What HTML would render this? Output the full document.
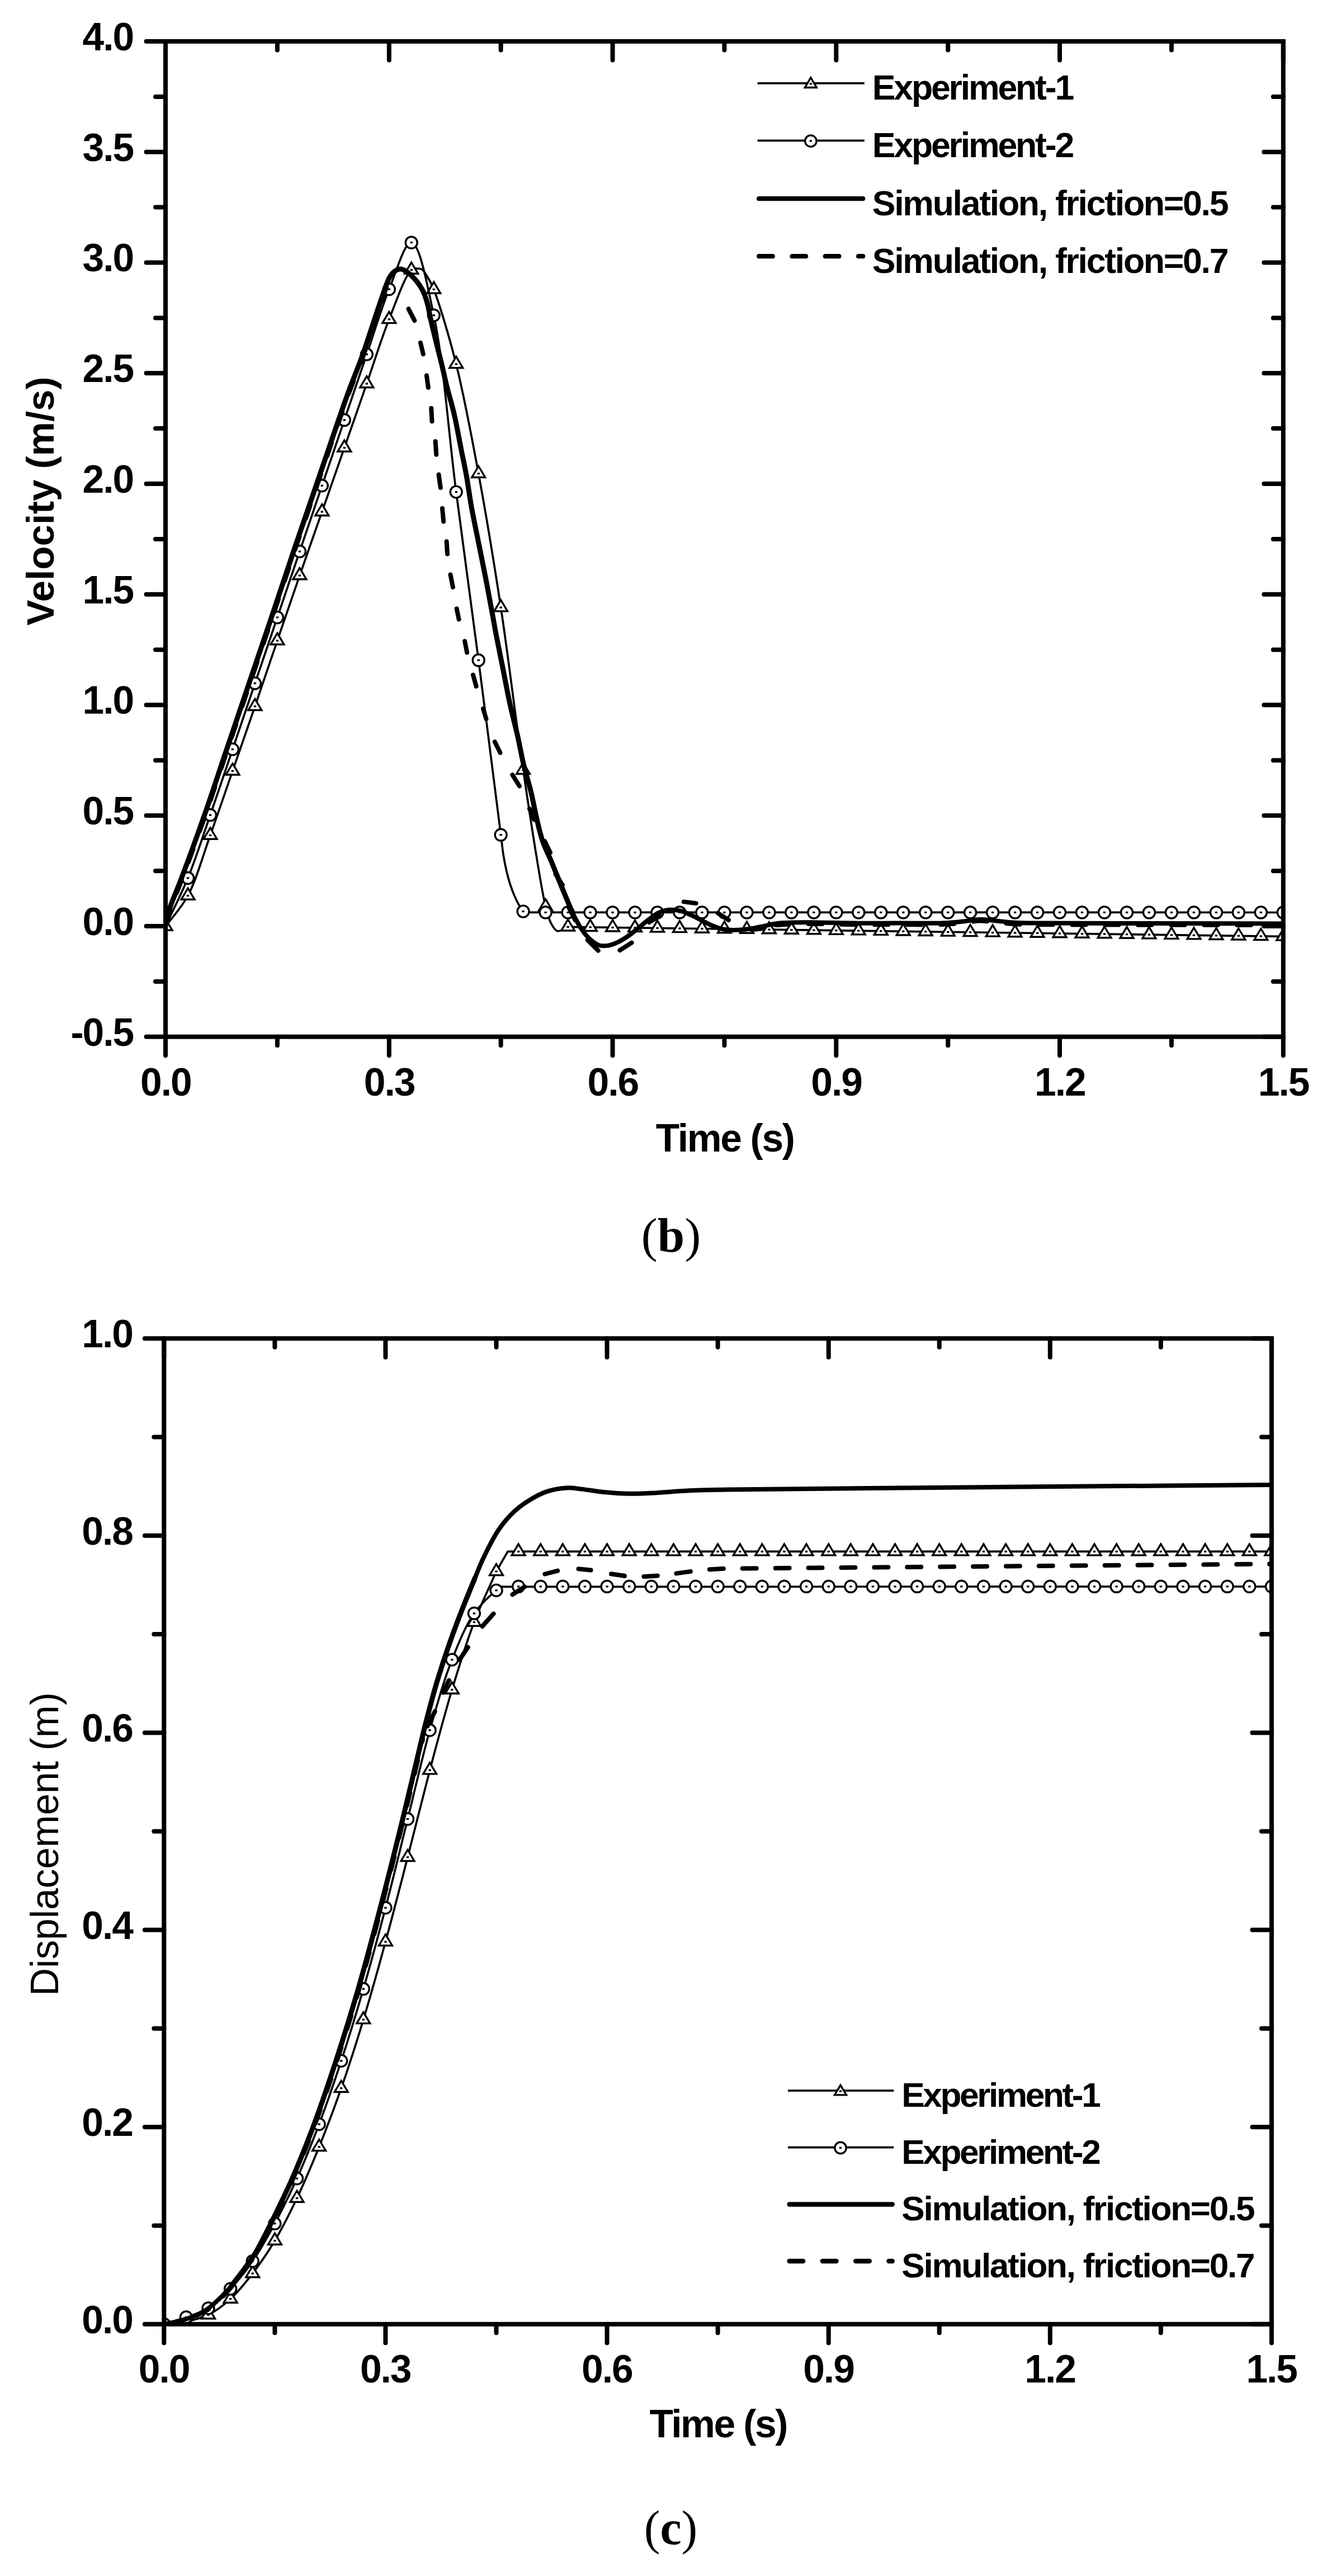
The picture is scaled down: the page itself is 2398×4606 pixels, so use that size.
<!DOCTYPE html>
<html lang="en"><head><meta charset="utf-8"><title>Figure (b) (c)</title>
<style>html,body{margin:0;padding:0;background:#fff}svg{display:block}</style></head>
<body>
<svg width="2398" height="4606" viewBox="0 0 2398 4606">
<rect width="2398" height="4606" fill="#fff"/>
<defs><clipPath id="cp1"><rect x="296" y="74" width="1998.8" height="1779.8"/></clipPath>
<clipPath id="cp2"><rect x="293.3" y="2393.2" width="1980.6" height="1762.5"/></clipPath></defs>
<g clip-path="url(#cp1)">
<path d="M296 1656.5C309.3 1638.2 324 1623.9 336 1601.5C351.6 1572.4 362.8 1530.1 376 1493.5C389.5 1455.8 402.6 1416.9 415.9 1378.5C429.3 1340 442.6 1301.7 455.9 1263C469.3 1224 482.5 1184.6 495.9 1145.5C509.2 1106.6 522.5 1067.6 535.9 1029C549.1 990.8 562.5 953 575.8 915C589.2 876.9 602.5 838.8 615.8 800.6C629.1 762.4 642.5 724.2 655.8 686C669.1 647.7 681.6 606.4 695.8 570.9C708.4 539.2 724.8 491.6 735.7 482.6C739.2 479.7 742.3 480.3 745.5 480.2C748.6 480.1 751.8 480 754.6 481.8C758.6 484.3 762.1 491.4 765.5 497C769.2 503.2 771.7 507.4 775.7 517.5C785.5 542.3 803.4 601.9 815.7 651C830.4 709.7 842.9 778.1 855.7 846.8C869.7 922.5 882.9 1002.4 895.6 1086.2C909.7 1178.3 921.7 1284.4 935.6 1377C948.4 1462 965.5 1579.5 975.6 1621C979.1 1635.6 981 1642.3 985 1650C988.1 1656 991.9 1662.9 996 1664.5C999.1 1665.7 1002.8 1663.7 1006 1662.5C1009.3 1661.3 1012.4 1659 1015.6 1657.3L2294.8 1674.4" fill="none" stroke="#000" stroke-width="3.7" stroke-linejoin="round"/>
<g fill="#fff" stroke="#000" stroke-width="3.4" stroke-linejoin="miter">
<path d="M296 1643.2L307.9 1663.2L284.1 1663.2Z"/><path d="M336 1588.2L347.9 1608.2L324.1 1608.2Z"/><path d="M376 1480.2L387.9 1500.2L364.1 1500.2Z"/><path d="M415.9 1365.2L427.8 1385.2L404 1385.2Z"/><path d="M455.9 1249.7L467.8 1269.7L444 1269.7Z"/><path d="M495.9 1132.2L507.8 1152.2L484 1152.2Z"/><path d="M535.9 1015.7L547.8 1035.7L524 1035.7Z"/><path d="M575.8 901.7L587.7 921.7L563.9 921.7Z"/><path d="M615.8 787.3L627.7 807.3L603.9 807.3Z"/><path d="M655.8 672.7L667.7 692.7L643.9 692.7Z"/><path d="M695.8 557.6L707.7 577.6L683.9 577.6Z"/><path d="M735.7 469.3L747.6 489.3L723.8 489.3Z"/><path d="M775.7 504.2L787.6 524.2L763.8 524.2Z"/><path d="M815.7 637.7L827.6 657.7L803.8 657.7Z"/><path d="M855.7 833.5L867.6 853.5L843.8 853.5Z"/><path d="M895.6 1072.9L907.5 1092.9L883.7 1092.9Z"/><path d="M935.6 1363.7L947.5 1383.7L923.7 1383.7Z"/><path d="M975.6 1607.7L987.5 1627.7L963.7 1627.7Z"/><path d="M1015.6 1644L1027.5 1664L1003.7 1664Z"/><path d="M1055.5 1644.5L1067.4 1664.5L1043.6 1664.5Z"/><path d="M1095.5 1645L1107.4 1665L1083.6 1665Z"/><path d="M1135.5 1645.6L1147.4 1665.6L1123.6 1665.6Z"/><path d="M1175.5 1646.1L1187.4 1666.1L1163.6 1666.1Z"/><path d="M1215.4 1646.6L1227.3 1666.6L1203.5 1666.6Z"/><path d="M1255.4 1647.2L1267.3 1667.2L1243.5 1667.2Z"/><path d="M1295.4 1647.7L1307.3 1667.7L1283.5 1667.7Z"/><path d="M1335.4 1648.2L1347.3 1668.2L1323.5 1668.2Z"/><path d="M1375.4 1648.8L1387.3 1668.8L1363.5 1668.8Z"/><path d="M1415.3 1649.3L1427.2 1669.3L1403.4 1669.3Z"/><path d="M1455.3 1649.8L1467.2 1669.8L1443.4 1669.8Z"/><path d="M1495.3 1650.4L1507.2 1670.4L1483.4 1670.4Z"/><path d="M1535.3 1650.9L1547.2 1670.9L1523.4 1670.9Z"/><path d="M1575.2 1651.4L1587.1 1671.4L1563.3 1671.4Z"/><path d="M1615.2 1652L1627.1 1672L1603.3 1672Z"/><path d="M1655.2 1652.5L1667.1 1672.5L1643.3 1672.5Z"/><path d="M1695.2 1653.1L1707.1 1673.1L1683.3 1673.1Z"/><path d="M1735.1 1653.6L1747 1673.6L1723.2 1673.6Z"/><path d="M1775.1 1654.1L1787 1674.1L1763.2 1674.1Z"/><path d="M1815.1 1654.7L1827 1674.7L1803.2 1674.7Z"/><path d="M1855.1 1655.2L1867 1675.2L1843.2 1675.2Z"/><path d="M1895 1655.7L1906.9 1675.7L1883.1 1675.7Z"/><path d="M1935 1656.3L1946.9 1676.3L1923.1 1676.3Z"/><path d="M1975 1656.8L1986.9 1676.8L1963.1 1676.8Z"/><path d="M2015 1657.3L2026.9 1677.3L2003.1 1677.3Z"/><path d="M2054.9 1657.9L2066.8 1677.9L2043 1677.9Z"/><path d="M2094.9 1658.4L2106.8 1678.4L2083 1678.4Z"/><path d="M2134.9 1658.9L2146.8 1678.9L2123 1678.9Z"/><path d="M2174.9 1659.5L2186.8 1679.5L2163 1679.5Z"/><path d="M2214.8 1660L2226.7 1680L2202.9 1680Z"/><path d="M2254.8 1660.5L2266.7 1680.5L2242.9 1680.5Z"/><path d="M2294.8 1661.1L2306.7 1681.1L2282.9 1681.1Z"/>
</g><g fill="#000"><rect x="293.8" y="1654.9" width="4.4" height="3.2"/><rect x="333.8" y="1599.9" width="4.4" height="3.2"/><rect x="373.8" y="1491.9" width="4.4" height="3.2"/><rect x="413.7" y="1376.9" width="4.4" height="3.2"/><rect x="453.7" y="1261.4" width="4.4" height="3.2"/><rect x="493.7" y="1143.9" width="4.4" height="3.2"/><rect x="533.7" y="1027.4" width="4.4" height="3.2"/><rect x="573.6" y="913.4" width="4.4" height="3.2"/><rect x="613.6" y="799" width="4.4" height="3.2"/><rect x="653.6" y="684.4" width="4.4" height="3.2"/><rect x="693.6" y="569.3" width="4.4" height="3.2"/><rect x="733.5" y="481" width="4.4" height="3.2"/><rect x="773.5" y="515.9" width="4.4" height="3.2"/><rect x="813.5" y="649.4" width="4.4" height="3.2"/><rect x="853.5" y="845.2" width="4.4" height="3.2"/><rect x="893.4" y="1084.6" width="4.4" height="3.2"/><rect x="933.4" y="1375.4" width="4.4" height="3.2"/><rect x="973.4" y="1619.4" width="4.4" height="3.2"/><rect x="1013.4" y="1655.7" width="4.4" height="3.2"/><rect x="1053.3" y="1656.2" width="4.4" height="3.2"/><rect x="1093.3" y="1656.8" width="4.4" height="3.2"/><rect x="1133.3" y="1657.3" width="4.4" height="3.2"/><rect x="1173.3" y="1657.8" width="4.4" height="3.2"/><rect x="1213.2" y="1658.4" width="4.4" height="3.2"/><rect x="1253.2" y="1658.9" width="4.4" height="3.2"/><rect x="1293.2" y="1659.4" width="4.4" height="3.2"/><rect x="1333.2" y="1660" width="4.4" height="3.2"/><rect x="1373.2" y="1660.5" width="4.4" height="3.2"/><rect x="1413.1" y="1661" width="4.4" height="3.2"/><rect x="1453.1" y="1661.6" width="4.4" height="3.2"/><rect x="1493.1" y="1662.1" width="4.4" height="3.2"/><rect x="1533.1" y="1662.6" width="4.4" height="3.2"/><rect x="1573" y="1663.2" width="4.4" height="3.2"/><rect x="1613" y="1663.7" width="4.4" height="3.2"/><rect x="1653" y="1664.2" width="4.4" height="3.2"/><rect x="1693" y="1664.8" width="4.4" height="3.2"/><rect x="1732.9" y="1665.3" width="4.4" height="3.2"/><rect x="1772.9" y="1665.9" width="4.4" height="3.2"/><rect x="1812.9" y="1666.4" width="4.4" height="3.2"/><rect x="1852.9" y="1666.9" width="4.4" height="3.2"/><rect x="1892.8" y="1667.5" width="4.4" height="3.2"/><rect x="1932.8" y="1668" width="4.4" height="3.2"/><rect x="1972.8" y="1668.5" width="4.4" height="3.2"/><rect x="2012.8" y="1669.1" width="4.4" height="3.2"/><rect x="2052.7" y="1669.6" width="4.4" height="3.2"/><rect x="2092.7" y="1670.1" width="4.4" height="3.2"/><rect x="2132.7" y="1670.7" width="4.4" height="3.2"/><rect x="2172.7" y="1671.2" width="4.4" height="3.2"/><rect x="2212.6" y="1671.7" width="4.4" height="3.2"/><rect x="2252.6" y="1672.3" width="4.4" height="3.2"/><rect x="2292.6" y="1672.8" width="4.4" height="3.2"/></g>
<path d="M296 1656C309.3 1627.3 323.3 1600.9 336 1570C350.2 1535.3 362.7 1495.3 376 1457.3C389.4 1418.6 402.6 1379 415.9 1339.8C429.3 1300.5 442.6 1261.1 455.9 1221.8C469.2 1182.5 482.6 1143.3 495.9 1104C509.2 1064.7 522.5 1025.3 535.9 986C549.2 946.7 562.5 907.5 575.8 868.3C589.1 829.2 602.5 790.1 615.8 751C629.1 711.9 642.4 672.6 655.8 633.6C669.1 594.7 681.3 552.4 695.8 517.2C708.3 486.7 723.5 432.8 735.7 433.7C750.6 434.8 764.2 510.4 775.7 563.8C793.3 645.5 802.2 775.6 815.7 879.6C828.9 981.1 842.5 1079.3 855.7 1180.5C869.1 1283.6 888.9 1439.6 895.6 1492.8C898 1511 898.4 1517.9 900.3 1529.5C902 1540 904 1550 906.2 1559.3C908.2 1567.7 910.5 1575.9 912.9 1583.2C915 1589.6 917.3 1595.4 919.7 1601.1C922 1606.5 924.4 1611.7 927.1 1616.5C929.7 1621.1 932.5 1627.4 935.6 1629.6C937.6 1631.1 939.9 1630.7 942 1631.3L2294.8 1631.5" fill="none" stroke="#000" stroke-width="3.7" stroke-linejoin="round"/>
<g fill="#fff" stroke="#000" stroke-width="3.4">
<circle cx="336" cy="1570" r="10.5"/><circle cx="376" cy="1457.3" r="10.5"/><circle cx="415.9" cy="1339.8" r="10.5"/><circle cx="455.9" cy="1221.8" r="10.5"/><circle cx="495.9" cy="1104" r="10.5"/><circle cx="535.9" cy="986" r="10.5"/><circle cx="575.8" cy="868.3" r="10.5"/><circle cx="615.8" cy="751" r="10.5"/><circle cx="655.8" cy="633.6" r="10.5"/><circle cx="695.8" cy="517.2" r="10.5"/><circle cx="735.7" cy="433.7" r="10.5"/><circle cx="775.7" cy="563.8" r="10.5"/><circle cx="815.7" cy="879.6" r="10.5"/><circle cx="855.7" cy="1180.5" r="10.5"/><circle cx="895.6" cy="1492.8" r="10.5"/><circle cx="935.6" cy="1629.6" r="10.5"/><circle cx="975.6" cy="1631.5" r="10.5"/><circle cx="1015.6" cy="1631.5" r="10.5"/><circle cx="1055.5" cy="1631.5" r="10.5"/><circle cx="1095.5" cy="1631.5" r="10.5"/><circle cx="1135.5" cy="1631.5" r="10.5"/><circle cx="1175.5" cy="1631.5" r="10.5"/><circle cx="1215.4" cy="1631.5" r="10.5"/><circle cx="1255.4" cy="1631.5" r="10.5"/><circle cx="1295.4" cy="1631.5" r="10.5"/><circle cx="1335.4" cy="1631.5" r="10.5"/><circle cx="1375.4" cy="1631.5" r="10.5"/><circle cx="1415.3" cy="1631.5" r="10.5"/><circle cx="1455.3" cy="1631.5" r="10.5"/><circle cx="1495.3" cy="1631.5" r="10.5"/><circle cx="1535.3" cy="1631.5" r="10.5"/><circle cx="1575.2" cy="1631.5" r="10.5"/><circle cx="1615.2" cy="1631.5" r="10.5"/><circle cx="1655.2" cy="1631.5" r="10.5"/><circle cx="1695.2" cy="1631.5" r="10.5"/><circle cx="1735.1" cy="1631.5" r="10.5"/><circle cx="1775.1" cy="1631.5" r="10.5"/><circle cx="1815.1" cy="1631.5" r="10.5"/><circle cx="1855.1" cy="1631.5" r="10.5"/><circle cx="1895" cy="1631.5" r="10.5"/><circle cx="1935" cy="1631.5" r="10.5"/><circle cx="1975" cy="1631.5" r="10.5"/><circle cx="2015" cy="1631.5" r="10.5"/><circle cx="2054.9" cy="1631.5" r="10.5"/><circle cx="2094.9" cy="1631.5" r="10.5"/><circle cx="2134.9" cy="1631.5" r="10.5"/><circle cx="2174.9" cy="1631.5" r="10.5"/><circle cx="2214.8" cy="1631.5" r="10.5"/><circle cx="2254.8" cy="1631.5" r="10.5"/><circle cx="2294.8" cy="1631.5" r="10.5"/>
</g><g fill="#000"><rect x="333.8" y="1568.4" width="4.4" height="3.2"/><rect x="373.8" y="1455.7" width="4.4" height="3.2"/><rect x="413.7" y="1338.2" width="4.4" height="3.2"/><rect x="453.7" y="1220.2" width="4.4" height="3.2"/><rect x="493.7" y="1102.4" width="4.4" height="3.2"/><rect x="533.7" y="984.4" width="4.4" height="3.2"/><rect x="573.6" y="866.7" width="4.4" height="3.2"/><rect x="613.6" y="749.4" width="4.4" height="3.2"/><rect x="653.6" y="632" width="4.4" height="3.2"/><rect x="693.6" y="515.6" width="4.4" height="3.2"/><rect x="733.5" y="432.1" width="4.4" height="3.2"/><rect x="773.5" y="562.2" width="4.4" height="3.2"/><rect x="813.5" y="878" width="4.4" height="3.2"/><rect x="853.5" y="1178.9" width="4.4" height="3.2"/><rect x="893.4" y="1491.2" width="4.4" height="3.2"/><rect x="933.4" y="1628" width="4.4" height="3.2"/><rect x="973.4" y="1629.9" width="4.4" height="3.2"/><rect x="1013.4" y="1629.9" width="4.4" height="3.2"/><rect x="1053.3" y="1629.9" width="4.4" height="3.2"/><rect x="1093.3" y="1629.9" width="4.4" height="3.2"/><rect x="1133.3" y="1629.9" width="4.4" height="3.2"/><rect x="1173.3" y="1629.9" width="4.4" height="3.2"/><rect x="1213.2" y="1629.9" width="4.4" height="3.2"/><rect x="1253.2" y="1629.9" width="4.4" height="3.2"/><rect x="1293.2" y="1629.9" width="4.4" height="3.2"/><rect x="1333.2" y="1629.9" width="4.4" height="3.2"/><rect x="1373.2" y="1629.9" width="4.4" height="3.2"/><rect x="1413.1" y="1629.9" width="4.4" height="3.2"/><rect x="1453.1" y="1629.9" width="4.4" height="3.2"/><rect x="1493.1" y="1629.9" width="4.4" height="3.2"/><rect x="1533.1" y="1629.9" width="4.4" height="3.2"/><rect x="1573" y="1629.9" width="4.4" height="3.2"/><rect x="1613" y="1629.9" width="4.4" height="3.2"/><rect x="1653" y="1629.9" width="4.4" height="3.2"/><rect x="1693" y="1629.9" width="4.4" height="3.2"/><rect x="1732.9" y="1629.9" width="4.4" height="3.2"/><rect x="1772.9" y="1629.9" width="4.4" height="3.2"/><rect x="1812.9" y="1629.9" width="4.4" height="3.2"/><rect x="1852.9" y="1629.9" width="4.4" height="3.2"/><rect x="1892.8" y="1629.9" width="4.4" height="3.2"/><rect x="1932.8" y="1629.9" width="4.4" height="3.2"/><rect x="1972.8" y="1629.9" width="4.4" height="3.2"/><rect x="2012.8" y="1629.9" width="4.4" height="3.2"/><rect x="2052.7" y="1629.9" width="4.4" height="3.2"/><rect x="2092.7" y="1629.9" width="4.4" height="3.2"/><rect x="2132.7" y="1629.9" width="4.4" height="3.2"/><rect x="2172.7" y="1629.9" width="4.4" height="3.2"/><rect x="2212.6" y="1629.9" width="4.4" height="3.2"/><rect x="2252.6" y="1629.9" width="4.4" height="3.2"/><rect x="2292.6" y="1629.9" width="4.4" height="3.2"/></g>
<path d="M296.3 1652C299.3 1641 302 1629 305.3 1619C308.2 1610.3 311.6 1603.2 314.8 1595C318.2 1586.4 320.7 1580.4 325.2 1568.5C334.4 1544.2 352.5 1495 365.7 1457.3C379.2 1418.8 392.1 1379 405.4 1339.8C418.7 1300.5 432.1 1261.1 445.4 1221.8C458.7 1182.5 472.2 1143.3 485.4 1104C498.7 1064.7 511.6 1025.3 524.9 986C538.2 946.7 551.9 907.5 565.3 868.3C578.7 829.2 594.6 782.1 605.4 751C612.6 730.4 616.8 717.9 623.5 699.8C631.1 679.1 641.3 654.9 648.8 633.8C655.6 614.8 661.7 595 667.1 579C671.3 566.4 674.6 556.2 678.3 545.4C681.7 535.3 685.2 525 688.4 516.3C691.1 509.1 693.1 502.2 696.2 496.8C698.8 492.3 701.6 488.2 705.1 485.5C708.3 483.1 712.6 480.9 716.3 481C720.1 481.1 723.7 483.5 727.5 486.1C732.6 489.5 738.5 495.1 743.2 500.7C748.2 506.6 753.1 513.7 756.6 520.8C760.1 527.9 762.2 535.3 764.4 543.2C766.7 551.7 767.8 560.3 770 570C772.6 581.6 775.8 594.8 779 608C782.5 622.3 786.8 638.5 790.2 652.8C793.3 665.8 795.5 676.7 798.8 690C802.6 705.4 807.8 721.7 811.9 739.5C816.7 760.1 821.3 786.5 825.3 806.6C828.6 823 831.4 835.5 834.2 851.3C837.4 868.9 839.7 887.8 843.2 907.3C847.1 928.7 852.1 952 856.6 974.4C861.1 996.8 865.9 1020.4 870 1041.5C873.6 1060.3 876.9 1078.3 880 1095C882.7 1109.6 884.6 1121.3 887.4 1136C890.7 1153.2 894.7 1172.4 898.6 1191.9C902.9 1213.2 907.3 1237.7 912 1259C916.3 1278.5 921.2 1296.5 925.4 1314.9C929.4 1332.8 932.4 1350.6 936.6 1368C940.7 1385 946.2 1402 950 1418C953.5 1432.6 955.7 1446.2 959 1460.3C962.3 1474.5 965.4 1489.4 970 1503C974.4 1516 980.4 1527 985.8 1540C991.8 1554.4 998.2 1570.6 1004.4 1585.8C1010.6 1600.8 1016.4 1616.8 1023 1630.5C1028.9 1642.7 1035.3 1655 1041.7 1664C1046.6 1670.9 1051.3 1676.3 1056.6 1680.8C1061.3 1684.8 1066.3 1688.6 1071.5 1690.2C1076.3 1691.7 1081.2 1691.6 1086.4 1690.9C1092.3 1690.1 1098.9 1687.4 1105 1684.6C1111.4 1681.6 1117.6 1677.6 1123.7 1673.4C1130.1 1669 1136.2 1663.5 1142.4 1658.5C1148.6 1653.5 1154.7 1648.1 1161 1643.5C1167.1 1639 1173.1 1634 1179.6 1631.2C1185.6 1628.6 1192 1627.2 1198.3 1626.8C1204.5 1626.4 1210.8 1627.1 1216.9 1628.6C1223.2 1630.1 1229.4 1633.3 1235.6 1636.1C1241.9 1638.9 1248 1642.3 1254.2 1645.4C1260.4 1648.5 1266.5 1652.1 1272.8 1654.7C1278.9 1657.3 1285.2 1659.7 1291.5 1661.1C1297.6 1662.4 1303.9 1662.7 1310.1 1662.9C1316.3 1663.1 1322.6 1662.7 1328.8 1662.2C1335 1661.7 1341.2 1660.6 1347.4 1659.6C1353.6 1658.5 1359.6 1657.2 1366 1655.9C1372.8 1654.5 1379.2 1652.6 1387 1651.5C1396.7 1650.2 1408.3 1649.9 1420 1649.5C1433.2 1649.1 1446 1649.3 1462 1649.4C1483.2 1649.6 1511.2 1650.5 1536 1650.7C1560.9 1650.9 1586 1650.5 1611 1650.5C1635.9 1650.5 1665 1651.3 1685.6 1650.5C1700.2 1649.9 1711.3 1648.7 1723 1647.5C1733.5 1646.5 1743.1 1644.1 1752.7 1644C1761.7 1643.9 1769.3 1645.4 1778.8 1646.3C1790.1 1647.3 1803.9 1649.1 1816 1649.8C1827.6 1650.5 1834.6 1650.3 1850 1650.5C1882.3 1650.9 1941.6 1650.9 2000 1651C2081.8 1651.2 2196.5 1651.3 2294.8 1651.5" fill="none" stroke="#000" stroke-width="8" stroke-linejoin="round"/>
<path d="M296.3 1652C299.3 1641 302 1629 305.3 1619C308.2 1610.3 311.6 1603.2 314.8 1595C318.2 1586.4 320.7 1580.4 325.2 1568.5C334.4 1544.2 352.5 1495 365.7 1457.3C379.2 1418.8 392.1 1379 405.4 1339.8C418.7 1300.5 432.1 1261.1 445.4 1221.8C458.7 1182.5 472.2 1143.3 485.4 1104C498.7 1064.7 511.6 1025.3 524.9 986C538.2 946.7 551.9 907.5 565.3 868.3C578.7 829.2 594.6 782.1 605.4 751C612.6 730.4 616.8 717.9 623.5 699.8C631.1 679.1 641.3 654.9 648.8 633.8C655.6 614.8 661.7 595 667.1 579C671.3 566.4 674.6 556.2 678.3 545.4C681.7 535.3 685.2 525 688.4 516.3C691.1 509.1 693.1 502.2 696.2 496.8C698.8 492.3 701.6 488.2 705.1 485.5C708.3 483.1 712.6 480.9 716.3 481C720.1 481.1 723.7 483.5 727.5 486.1C732.6 489.5 738.5 495.1 743.2 500.7C748.2 506.6 753.1 513.7 756.6 520.8C760.1 527.9 762.2 535.3 764.4 543.2C766.7 551.7 767.8 560.3 770 570C772.6 581.6 775.8 594.8 779 608C782.5 622.3 786.8 638.5 790.2 652.8C793.3 665.8 795.5 676.7 798.8 690C802.6 705.4 807.8 721.7 811.9 739.5C816.7 760.1 821.3 786.5 825.3 806.6C828.6 823 831.4 835.5 834.2 851.3C837.4 868.9 839.7 887.8 843.2 907.3C847.1 928.7 852.1 952 856.6 974.4C861.1 996.8 865.9 1020.4 870 1041.5C873.6 1060.3 876.9 1078.3 880 1095C882.7 1109.6 884.6 1121.3 887.4 1136C890.7 1153.2 894.7 1172.4 898.6 1191.9C902.9 1213.2 907.3 1237.7 912 1259C916.3 1278.5 921.2 1296.5 925.4 1314.9C929.4 1332.8 932.4 1350.6 936.6 1368C940.7 1385 946.2 1402 950 1418C953.5 1432.6 955.7 1446.2 959 1460.3C962.3 1474.5 965.4 1489.4 970 1503C974.4 1516 980.4 1527 985.8 1540C991.8 1554.4 998.2 1570.6 1004.4 1585.8C1010.6 1600.8 1016.8 1615.6 1023 1630.5" fill="none" stroke="#000" stroke-width="9.0" stroke-linejoin="round" stroke-linecap="round"/>
<path d="M297.8 1652.5C300.8 1641.5 303.5 1629.5 306.8 1619.5C309.7 1610.8 313.1 1603.7 316.3 1595.5C319.7 1586.9 322.2 1580.9 326.7 1569C335.9 1544.7 354 1495.5 367.2 1457.8C380.7 1419.3 393.6 1379.5 406.9 1340.3C420.2 1301 433.6 1261.6 446.9 1222.3C460.2 1183 473.7 1143.8 486.9 1104.5C500.2 1065.2 513.1 1025.8 526.4 986.5C539.7 947.2 553.4 908 566.8 868.8C580.2 829.7 596.1 782.6 606.9 751.5C614.1 730.9 618.3 718.4 625 700.3C632.6 679.6 642.8 655.4 650.3 634.3C657.1 615.3 663.2 595.5 668.6 579.5C672.8 566.9 676.1 556.7 679.8 545.9C683.2 535.8 686.7 525.5 689.9 516.8C692.6 509.6 694.6 502.7 697.7 497.3C700.2 493 703.2 490.1 706 486.5" fill="none" stroke="#000" stroke-width="8" stroke-dasharray="24.5 34.5" stroke-linecap="round"/>
<path d="M730.5 552.3L741.3 573.2M751.9 612.9L756.8 633.1M762.9 671.5L765.8 693M771.2 730L772.5 753.4M778.6 789.3L780.2 812.7M784.5 848.6L787.8 872M791 909L793.1 932.4M798.6 968.3L800 990.5M805.5 1027.5L809.9 1049.9M816.6 1088.4L820.6 1107.4M831.1 1146.5L835.1 1166.7M846 1206.9L851.6 1227.1M864 1267.2L869.4 1285.4M884.7 1326.3L894.5 1346M916.3 1385.4L928.9 1405.5M947 1446.1L955.2 1465.5M974.2 1504.2L984 1524.4M993.6 1563.1L1005.9 1582.4M1017.4 1622.9L1028.7 1645.5M1050.8 1680.8L1069.7 1699.7M1108.4 1699.1L1129.6 1685.6M1160.8 1649L1179.9 1638.1M1222.8 1612.4L1244.6 1615.1M1283.7 1632.7L1303 1645.1M1344 1662.2L1362 1660.6" fill="none" stroke="#000" stroke-width="8" stroke-linecap="round"/>
<path d="M1387 1654.1C1398 1653.4 1408.3 1652.5 1420 1652.1C1433.2 1651.7 1446 1651.9 1462 1652C1483.2 1652.2 1511.2 1653.1 1536 1653.3C1560.9 1653.5 1586 1653.1 1611 1653.1C1635.9 1653.1 1665 1653.9 1685.6 1653.1C1700.2 1652.5 1711.3 1651.3 1723 1650.1C1733.5 1649.1 1743.1 1646.7 1752.7 1646.6C1761.7 1646.5 1769.3 1648 1778.8 1648.9C1790.1 1649.9 1803.9 1651.7 1816 1652.4C1827.6 1653.1 1834.6 1652.9 1850 1653.1C1882.3 1653.5 1941.6 1653.5 2000 1653.6C2081.8 1653.8 2196.5 1653.9 2294.8 1654.1" fill="none" stroke="#000" stroke-width="8" stroke-dasharray="24.5 34.5" stroke-linecap="round"/>
</g>
<g stroke="#000" stroke-width="8" fill="none" stroke-linecap="round">
<path stroke-linecap="butt" stroke-linejoin="miter" d="M296 74H2294.8V1853.8H296Z"/>
<path d="M296 1853.8v33.5M296 74v33.5M695.8 1853.8v33.5M695.8 74v33.5M1095.5 1853.8v33.5M1095.5 74v33.5M1495.3 1853.8v33.5M1495.3 74v33.5M1895 1853.8v33.5M1895 74v33.5M2294.8 1853.8v33.5M2294.8 74v33.5M495.9 1853.8v15.5M495.9 74v15.5M895.6 1853.8v15.5M895.6 74v15.5M1295.4 1853.8v15.5M1295.4 74v15.5M1695.2 1853.8v15.5M1695.2 74v15.5M2094.9 1853.8v15.5M2094.9 74v15.5M296 1853.8h-34.5M2294.8 1853.8h-34.5M296 1656h-34.5M2294.8 1656h-34.5M296 1458.3h-34.5M2294.8 1458.3h-34.5M296 1260.5h-34.5M2294.8 1260.5h-34.5M296 1062.8h-34.5M2294.8 1062.8h-34.5M296 865h-34.5M2294.8 865h-34.5M296 667.3h-34.5M2294.8 667.3h-34.5M296 469.5h-34.5M2294.8 469.5h-34.5M296 271.8h-34.5M2294.8 271.8h-34.5M296 74h-34.5M2294.8 74h-34.5M296 1754.9h-18M2294.8 1754.9h-18M296 1557.2h-18M2294.8 1557.2h-18M296 1359.4h-18M2294.8 1359.4h-18M296 1161.7h-18M2294.8 1161.7h-18M296 963.9h-18M2294.8 963.9h-18M296 766.1h-18M2294.8 766.1h-18M296 568.4h-18M2294.8 568.4h-18M296 370.6h-18M2294.8 370.6h-18M296 172.9h-18M2294.8 172.9h-18"/>
</g>
<text x="238.2" y="1869.5" text-anchor="end" font-size="69.5" letter-spacing="-2.0" font-family="Liberation Sans, Arial, Helvetica, sans-serif" font-weight="700" >-0.5</text>
<text x="238.2" y="1671.7" text-anchor="end" font-size="69.5" letter-spacing="-2.0" font-family="Liberation Sans, Arial, Helvetica, sans-serif" font-weight="700" >0.0</text>
<text x="238.2" y="1474" text-anchor="end" font-size="69.5" letter-spacing="-2.0" font-family="Liberation Sans, Arial, Helvetica, sans-serif" font-weight="700" >0.5</text>
<text x="238.2" y="1276.2" text-anchor="end" font-size="69.5" letter-spacing="-2.0" font-family="Liberation Sans, Arial, Helvetica, sans-serif" font-weight="700" >1.0</text>
<text x="238.2" y="1078.5" text-anchor="end" font-size="69.5" letter-spacing="-2.0" font-family="Liberation Sans, Arial, Helvetica, sans-serif" font-weight="700" >1.5</text>
<text x="238.2" y="880.7" text-anchor="end" font-size="69.5" letter-spacing="-2.0" font-family="Liberation Sans, Arial, Helvetica, sans-serif" font-weight="700" >2.0</text>
<text x="238.2" y="683" text-anchor="end" font-size="69.5" letter-spacing="-2.0" font-family="Liberation Sans, Arial, Helvetica, sans-serif" font-weight="700" >2.5</text>
<text x="238.2" y="485.2" text-anchor="end" font-size="69.5" letter-spacing="-2.0" font-family="Liberation Sans, Arial, Helvetica, sans-serif" font-weight="700" >3.0</text>
<text x="238.2" y="287.5" text-anchor="end" font-size="69.5" letter-spacing="-2.0" font-family="Liberation Sans, Arial, Helvetica, sans-serif" font-weight="700" >3.5</text>
<text x="238.2" y="89.7" text-anchor="end" font-size="69.5" letter-spacing="-2.0" font-family="Liberation Sans, Arial, Helvetica, sans-serif" font-weight="700" >4.0</text>
<text x="296.3" y="1958.5" text-anchor="middle" font-size="69.5" letter-spacing="-2.0" font-family="Liberation Sans, Arial, Helvetica, sans-serif" font-weight="700" >0.0</text>
<text x="696.1" y="1958.5" text-anchor="middle" font-size="69.5" letter-spacing="-2.0" font-family="Liberation Sans, Arial, Helvetica, sans-serif" font-weight="700" >0.3</text>
<text x="1095.8" y="1958.5" text-anchor="middle" font-size="69.5" letter-spacing="-2.0" font-family="Liberation Sans, Arial, Helvetica, sans-serif" font-weight="700" >0.6</text>
<text x="1495.6" y="1958.5" text-anchor="middle" font-size="69.5" letter-spacing="-2.0" font-family="Liberation Sans, Arial, Helvetica, sans-serif" font-weight="700" >0.9</text>
<text x="1895.3" y="1958.5" text-anchor="middle" font-size="69.5" letter-spacing="-2.0" font-family="Liberation Sans, Arial, Helvetica, sans-serif" font-weight="700" >1.2</text>
<text x="2295.1" y="1958.5" text-anchor="middle" font-size="69.5" letter-spacing="-2.0" font-family="Liberation Sans, Arial, Helvetica, sans-serif" font-weight="700" >1.5</text>
<text x="1296.2" y="2058.9" text-anchor="middle" font-size="69.5" letter-spacing="-2.3" font-family="Liberation Sans, Arial, Helvetica, sans-serif" font-weight="700" >Time (s)</text>
<text transform="translate(95.7 896) rotate(-90)" text-anchor="middle" font-size="69" font-family="Liberation Sans, Arial, Helvetica, sans-serif" font-weight="700">Velocity (m/s)</text>
<text x="1200" y="2237.8" text-anchor="middle" font-size="87" font-family="Liberation Serif, Times New Roman, serif">(<tspan font-weight="700">b</tspan>)</text>
<g stroke="#000" fill="none">
<path d="M1354.6 148.8H1545.7M1354.6 251.4H1545.7" stroke-width="3.7"/>
<path d="M1357.1 355.2H1543.2" stroke-width="8.3" stroke-linecap="round"/>
<path d="M1357.1 458.2H1543.2" stroke-width="8.3" stroke-linecap="round" stroke-dasharray="24.7 34.6"/>
</g>
<g fill="#fff" stroke="#000" stroke-width="3.4"><path d="M1449.8 138.9L1460.3 156.5L1439.3 156.5Z"/><circle cx="1449.8" cy="252.2" r="10.2"/></g>
<g fill="#000"><rect x="1447.6" y="148.2" width="4.4" height="3.2"/><rect x="1447.6" y="250.4" width="4.4" height="3.2"/></g>
<text x="1559.8" y="178.2" text-anchor="start" font-size="62.5" letter-spacing="-3.14" font-family="Liberation Sans, Arial, Helvetica, sans-serif" font-weight="700" >Experiment-1</text>
<text x="1559.8" y="280.8" text-anchor="start" font-size="62.5" letter-spacing="-3.14" font-family="Liberation Sans, Arial, Helvetica, sans-serif" font-weight="700" >Experiment-2</text>
<text x="1559.8" y="384.6" text-anchor="start" font-size="62.5" letter-spacing="-2.25" font-family="Liberation Sans, Arial, Helvetica, sans-serif" font-weight="700" >Simulation, friction=0.5</text>
<text x="1559.8" y="487.6" text-anchor="start" font-size="62.5" letter-spacing="-2.25" font-family="Liberation Sans, Arial, Helvetica, sans-serif" font-weight="700" >Simulation, friction=0.7</text>
<g clip-path="url(#cp2)">
<path d="M293.3 4155.7C306.5 4154.1 319.8 4153.7 332.9 4151C346.2 4148.2 359.8 4145.3 372.5 4139C386.3 4132.2 399.6 4122 412.1 4110.5C426.1 4097.8 439 4081.5 451.7 4065C465.5 4047.1 478.7 4027.7 491.4 4006.5C505.3 3983.2 518.2 3957.3 531 3930.5C544.7 3901.6 557.7 3870.6 570.6 3838.8C584.2 3805.1 597.4 3770.3 610.2 3733.8C623.9 3694.7 637 3653.5 649.8 3611.2C663.4 3566.4 676.5 3519.4 689.4 3472C702.9 3422.7 715.9 3371.6 729 3320.8C742.3 3269.3 755.2 3216 768.6 3165.2C781.6 3116.2 794.5 3067 808.3 3021.3C821 2979.1 833.7 2937.6 847.9 2900.5C860.3 2867.8 874.3 2840 887.5 2809.8L908 2774.2L2273.9 2774.2" fill="none" stroke="#000" stroke-width="3.7" stroke-linejoin="round"/>
<g fill="#fff" stroke="#000" stroke-width="3.4" stroke-linejoin="miter">
<path d="M293.3 4142.4L305.2 4162.4L281.4 4162.4Z"/><path d="M332.9 4137.7L344.8 4157.7L321 4157.7Z"/><path d="M372.5 4125.7L384.4 4145.7L360.6 4145.7Z"/><path d="M412.1 4097.2L424 4117.2L400.2 4117.2Z"/><path d="M451.7 4051.7L463.6 4071.7L439.8 4071.7Z"/><path d="M491.4 3993.2L503.3 4013.2L479.5 4013.2Z"/><path d="M531 3917.2L542.9 3937.2L519.1 3937.2Z"/><path d="M570.6 3825.5L582.5 3845.5L558.7 3845.5Z"/><path d="M610.2 3720.5L622.1 3740.5L598.3 3740.5Z"/><path d="M649.8 3597.9L661.7 3617.9L637.9 3617.9Z"/><path d="M689.4 3458.7L701.3 3478.7L677.5 3478.7Z"/><path d="M729 3307.5L740.9 3327.5L717.1 3327.5Z"/><path d="M768.6 3151.9L780.5 3171.9L756.7 3171.9Z"/><path d="M808.3 3008L820.2 3028L796.4 3028Z"/><path d="M847.9 2887.2L859.8 2907.2L836 2907.2Z"/><path d="M887.5 2796.5L899.4 2816.5L875.6 2816.5Z"/><path d="M927.1 2760.9L939 2780.9L915.2 2780.9Z"/><path d="M966.7 2760.9L978.6 2780.9L954.8 2780.9Z"/><path d="M1006.3 2760.9L1018.2 2780.9L994.4 2780.9Z"/><path d="M1045.9 2760.9L1057.8 2780.9L1034 2780.9Z"/><path d="M1085.5 2760.9L1097.4 2780.9L1073.6 2780.9Z"/><path d="M1125.2 2760.9L1137.1 2780.9L1113.3 2780.9Z"/><path d="M1164.8 2760.9L1176.7 2780.9L1152.9 2780.9Z"/><path d="M1204.4 2760.9L1216.3 2780.9L1192.5 2780.9Z"/><path d="M1244 2760.9L1255.9 2780.9L1232.1 2780.9Z"/><path d="M1283.6 2760.9L1295.5 2780.9L1271.7 2780.9Z"/><path d="M1323.2 2760.9L1335.1 2780.9L1311.3 2780.9Z"/><path d="M1362.8 2760.9L1374.7 2780.9L1350.9 2780.9Z"/><path d="M1402.4 2760.9L1414.3 2780.9L1390.5 2780.9Z"/><path d="M1442 2760.9L1453.9 2780.9L1430.1 2780.9Z"/><path d="M1481.7 2760.9L1493.6 2780.9L1469.8 2780.9Z"/><path d="M1521.3 2760.9L1533.2 2780.9L1509.4 2780.9Z"/><path d="M1560.9 2760.9L1572.8 2780.9L1549 2780.9Z"/><path d="M1600.5 2760.9L1612.4 2780.9L1588.6 2780.9Z"/><path d="M1640.1 2760.9L1652 2780.9L1628.2 2780.9Z"/><path d="M1679.7 2760.9L1691.6 2780.9L1667.8 2780.9Z"/><path d="M1719.3 2760.9L1731.2 2780.9L1707.4 2780.9Z"/><path d="M1758.9 2760.9L1770.8 2780.9L1747 2780.9Z"/><path d="M1798.6 2760.9L1810.5 2780.9L1786.7 2780.9Z"/><path d="M1838.2 2760.9L1850.1 2780.9L1826.3 2780.9Z"/><path d="M1877.8 2760.9L1889.7 2780.9L1865.9 2780.9Z"/><path d="M1917.4 2760.9L1929.3 2780.9L1905.5 2780.9Z"/><path d="M1957 2760.9L1968.9 2780.9L1945.1 2780.9Z"/><path d="M1996.6 2760.9L2008.5 2780.9L1984.7 2780.9Z"/><path d="M2036.2 2760.9L2048.1 2780.9L2024.3 2780.9Z"/><path d="M2075.8 2760.9L2087.7 2780.9L2063.9 2780.9Z"/><path d="M2115.5 2760.9L2127.4 2780.9L2103.6 2780.9Z"/><path d="M2155.1 2760.9L2167 2780.9L2143.2 2780.9Z"/><path d="M2194.7 2760.9L2206.6 2780.9L2182.8 2780.9Z"/><path d="M2234.3 2760.9L2246.2 2780.9L2222.4 2780.9Z"/><path d="M2273.9 2760.9L2285.8 2780.9L2262 2780.9Z"/>
</g><g fill="#000"><rect x="291.1" y="4154.1" width="4.4" height="3.2"/><rect x="330.7" y="4149.4" width="4.4" height="3.2"/><rect x="370.3" y="4137.4" width="4.4" height="3.2"/><rect x="409.9" y="4108.9" width="4.4" height="3.2"/><rect x="449.5" y="4063.4" width="4.4" height="3.2"/><rect x="489.2" y="4004.9" width="4.4" height="3.2"/><rect x="528.8" y="3928.9" width="4.4" height="3.2"/><rect x="568.4" y="3837.2" width="4.4" height="3.2"/><rect x="608" y="3732.2" width="4.4" height="3.2"/><rect x="647.6" y="3609.6" width="4.4" height="3.2"/><rect x="687.2" y="3470.4" width="4.4" height="3.2"/><rect x="726.8" y="3319.2" width="4.4" height="3.2"/><rect x="766.4" y="3163.6" width="4.4" height="3.2"/><rect x="806.1" y="3019.7" width="4.4" height="3.2"/><rect x="845.7" y="2898.9" width="4.4" height="3.2"/><rect x="885.3" y="2808.2" width="4.4" height="3.2"/><rect x="924.9" y="2772.6" width="4.4" height="3.2"/><rect x="964.5" y="2772.6" width="4.4" height="3.2"/><rect x="1004.1" y="2772.6" width="4.4" height="3.2"/><rect x="1043.7" y="2772.6" width="4.4" height="3.2"/><rect x="1083.3" y="2772.6" width="4.4" height="3.2"/><rect x="1123" y="2772.6" width="4.4" height="3.2"/><rect x="1162.6" y="2772.6" width="4.4" height="3.2"/><rect x="1202.2" y="2772.6" width="4.4" height="3.2"/><rect x="1241.8" y="2772.6" width="4.4" height="3.2"/><rect x="1281.4" y="2772.6" width="4.4" height="3.2"/><rect x="1321" y="2772.6" width="4.4" height="3.2"/><rect x="1360.6" y="2772.6" width="4.4" height="3.2"/><rect x="1400.2" y="2772.6" width="4.4" height="3.2"/><rect x="1439.8" y="2772.6" width="4.4" height="3.2"/><rect x="1479.5" y="2772.6" width="4.4" height="3.2"/><rect x="1519.1" y="2772.6" width="4.4" height="3.2"/><rect x="1558.7" y="2772.6" width="4.4" height="3.2"/><rect x="1598.3" y="2772.6" width="4.4" height="3.2"/><rect x="1637.9" y="2772.6" width="4.4" height="3.2"/><rect x="1677.5" y="2772.6" width="4.4" height="3.2"/><rect x="1717.1" y="2772.6" width="4.4" height="3.2"/><rect x="1756.7" y="2772.6" width="4.4" height="3.2"/><rect x="1796.4" y="2772.6" width="4.4" height="3.2"/><rect x="1836" y="2772.6" width="4.4" height="3.2"/><rect x="1875.6" y="2772.6" width="4.4" height="3.2"/><rect x="1915.2" y="2772.6" width="4.4" height="3.2"/><rect x="1954.8" y="2772.6" width="4.4" height="3.2"/><rect x="1994.4" y="2772.6" width="4.4" height="3.2"/><rect x="2034" y="2772.6" width="4.4" height="3.2"/><rect x="2073.6" y="2772.6" width="4.4" height="3.2"/><rect x="2113.3" y="2772.6" width="4.4" height="3.2"/><rect x="2152.9" y="2772.6" width="4.4" height="3.2"/><rect x="2192.5" y="2772.6" width="4.4" height="3.2"/><rect x="2232.1" y="2772.6" width="4.4" height="3.2"/><rect x="2271.7" y="2772.6" width="4.4" height="3.2"/></g>
<path d="M293.3 4155.7C306.5 4151.6 319.8 4148 332.9 4143.3C346.2 4138.5 359.9 4135 372.5 4127.2C386.5 4118.6 399.5 4105.7 412.1 4092.5C426 4078 439.2 4061.3 451.7 4043C465.7 4022.8 478.6 3999.5 491.4 3975.8C505.1 3950.4 518.2 3923.5 531 3895.2C544.7 3864.6 557.8 3832 570.6 3798.2C584.3 3762.1 597.3 3724 610.2 3684.9C623.8 3643.5 637 3600.6 649.8 3556.3C663.4 3509.5 676.5 3460.7 689.4 3411.2C702.9 3359.6 715.8 3305.4 729 3252.5C742.2 3199.6 754.7 3143.4 768.6 3093.7C781.2 3049 793.6 3004.8 808.3 2967.6C820.5 2936.6 832.7 2906.7 847.9 2884.8C859.8 2867.5 878.5 2851.1 887.5 2843.6C891.5 2840.2 893.8 2839.3 897 2837.2L2273.9 2836.8" fill="none" stroke="#000" stroke-width="3.7" stroke-linejoin="round"/>
<g fill="#fff" stroke="#000" stroke-width="3.4">
<circle cx="293.3" cy="4155.7" r="10.5"/><circle cx="332.9" cy="4143.3" r="10.5"/><circle cx="372.5" cy="4127.2" r="10.5"/><circle cx="412.1" cy="4092.5" r="10.5"/><circle cx="451.7" cy="4043" r="10.5"/><circle cx="491.4" cy="3975.8" r="10.5"/><circle cx="531" cy="3895.2" r="10.5"/><circle cx="570.6" cy="3798.2" r="10.5"/><circle cx="610.2" cy="3684.9" r="10.5"/><circle cx="649.8" cy="3556.3" r="10.5"/><circle cx="689.4" cy="3411.2" r="10.5"/><circle cx="729" cy="3252.5" r="10.5"/><circle cx="768.6" cy="3093.7" r="10.5"/><circle cx="808.3" cy="2967.6" r="10.5"/><circle cx="847.9" cy="2884.8" r="10.5"/><circle cx="887.5" cy="2843.6" r="10.5"/><circle cx="927.1" cy="2836.8" r="10.5"/><circle cx="966.7" cy="2836.8" r="10.5"/><circle cx="1006.3" cy="2836.8" r="10.5"/><circle cx="1045.9" cy="2836.8" r="10.5"/><circle cx="1085.5" cy="2836.8" r="10.5"/><circle cx="1125.2" cy="2836.8" r="10.5"/><circle cx="1164.8" cy="2836.8" r="10.5"/><circle cx="1204.4" cy="2836.8" r="10.5"/><circle cx="1244" cy="2836.8" r="10.5"/><circle cx="1283.6" cy="2836.8" r="10.5"/><circle cx="1323.2" cy="2836.8" r="10.5"/><circle cx="1362.8" cy="2836.8" r="10.5"/><circle cx="1402.4" cy="2836.8" r="10.5"/><circle cx="1442" cy="2836.8" r="10.5"/><circle cx="1481.7" cy="2836.8" r="10.5"/><circle cx="1521.3" cy="2836.8" r="10.5"/><circle cx="1560.9" cy="2836.8" r="10.5"/><circle cx="1600.5" cy="2836.8" r="10.5"/><circle cx="1640.1" cy="2836.8" r="10.5"/><circle cx="1679.7" cy="2836.8" r="10.5"/><circle cx="1719.3" cy="2836.8" r="10.5"/><circle cx="1758.9" cy="2836.8" r="10.5"/><circle cx="1798.6" cy="2836.8" r="10.5"/><circle cx="1838.2" cy="2836.8" r="10.5"/><circle cx="1877.8" cy="2836.8" r="10.5"/><circle cx="1917.4" cy="2836.8" r="10.5"/><circle cx="1957" cy="2836.8" r="10.5"/><circle cx="1996.6" cy="2836.8" r="10.5"/><circle cx="2036.2" cy="2836.8" r="10.5"/><circle cx="2075.8" cy="2836.8" r="10.5"/><circle cx="2115.5" cy="2836.8" r="10.5"/><circle cx="2155.1" cy="2836.8" r="10.5"/><circle cx="2194.7" cy="2836.8" r="10.5"/><circle cx="2234.3" cy="2836.8" r="10.5"/><circle cx="2273.9" cy="2836.8" r="10.5"/>
</g><g fill="#000"><rect x="291.1" y="4154.1" width="4.4" height="3.2"/><rect x="330.7" y="4141.7" width="4.4" height="3.2"/><rect x="370.3" y="4125.6" width="4.4" height="3.2"/><rect x="409.9" y="4090.9" width="4.4" height="3.2"/><rect x="449.5" y="4041.4" width="4.4" height="3.2"/><rect x="489.2" y="3974.2" width="4.4" height="3.2"/><rect x="528.8" y="3893.6" width="4.4" height="3.2"/><rect x="568.4" y="3796.6" width="4.4" height="3.2"/><rect x="608" y="3683.3" width="4.4" height="3.2"/><rect x="647.6" y="3554.7" width="4.4" height="3.2"/><rect x="687.2" y="3409.6" width="4.4" height="3.2"/><rect x="726.8" y="3250.9" width="4.4" height="3.2"/><rect x="766.4" y="3092.1" width="4.4" height="3.2"/><rect x="806.1" y="2966" width="4.4" height="3.2"/><rect x="845.7" y="2883.2" width="4.4" height="3.2"/><rect x="885.3" y="2842" width="4.4" height="3.2"/><rect x="924.9" y="2835.2" width="4.4" height="3.2"/><rect x="964.5" y="2835.2" width="4.4" height="3.2"/><rect x="1004.1" y="2835.2" width="4.4" height="3.2"/><rect x="1043.7" y="2835.2" width="4.4" height="3.2"/><rect x="1083.3" y="2835.2" width="4.4" height="3.2"/><rect x="1123" y="2835.2" width="4.4" height="3.2"/><rect x="1162.6" y="2835.2" width="4.4" height="3.2"/><rect x="1202.2" y="2835.2" width="4.4" height="3.2"/><rect x="1241.8" y="2835.2" width="4.4" height="3.2"/><rect x="1281.4" y="2835.2" width="4.4" height="3.2"/><rect x="1321" y="2835.2" width="4.4" height="3.2"/><rect x="1360.6" y="2835.2" width="4.4" height="3.2"/><rect x="1400.2" y="2835.2" width="4.4" height="3.2"/><rect x="1439.8" y="2835.2" width="4.4" height="3.2"/><rect x="1479.5" y="2835.2" width="4.4" height="3.2"/><rect x="1519.1" y="2835.2" width="4.4" height="3.2"/><rect x="1558.7" y="2835.2" width="4.4" height="3.2"/><rect x="1598.3" y="2835.2" width="4.4" height="3.2"/><rect x="1637.9" y="2835.2" width="4.4" height="3.2"/><rect x="1677.5" y="2835.2" width="4.4" height="3.2"/><rect x="1717.1" y="2835.2" width="4.4" height="3.2"/><rect x="1756.7" y="2835.2" width="4.4" height="3.2"/><rect x="1796.4" y="2835.2" width="4.4" height="3.2"/><rect x="1836" y="2835.2" width="4.4" height="3.2"/><rect x="1875.6" y="2835.2" width="4.4" height="3.2"/><rect x="1915.2" y="2835.2" width="4.4" height="3.2"/><rect x="1954.8" y="2835.2" width="4.4" height="3.2"/><rect x="1994.4" y="2835.2" width="4.4" height="3.2"/><rect x="2034" y="2835.2" width="4.4" height="3.2"/><rect x="2073.6" y="2835.2" width="4.4" height="3.2"/><rect x="2113.3" y="2835.2" width="4.4" height="3.2"/><rect x="2152.9" y="2835.2" width="4.4" height="3.2"/><rect x="2192.5" y="2835.2" width="4.4" height="3.2"/><rect x="2232.1" y="2835.2" width="4.4" height="3.2"/><rect x="2271.7" y="2835.2" width="4.4" height="3.2"/></g>
<path d="M293.3 4155.7C301 4154.1 308.4 4153 316.3 4151C325 4148.8 334.4 4146.2 343.2 4142.7C352.3 4139.1 361.6 4134.9 370 4129.3C378.8 4123.4 387 4115.4 394.6 4108C401.9 4100.9 408.1 4093.8 414.8 4085.7C422.2 4076.8 430 4066.4 437.1 4056.6C444.1 4047 450.9 4038.1 457.3 4027.5C464.4 4015.9 472.5 3999 477.4 3989.5C480.4 3983.8 481.2 3982.3 484.4 3975.8C492.1 3960.1 510.2 3923.5 522.6 3895.2C536 3864.6 549.1 3832 561.7 3798.2C575.2 3762.1 588 3724 600.8 3684.9C614.3 3643.5 627.7 3600.6 640.6 3556.3C654.2 3509.5 667.1 3460.7 680.1 3411.2C693.7 3359.5 707.2 3305.5 720.2 3252.5C733.2 3199.4 749 3130.3 758.3 3092.9C763.4 3072.6 766.4 3061.1 770.5 3046C774.4 3031.7 777.5 3020 782.2 3004.5C788.3 2984.5 796.9 2958.2 804.6 2936.3C811.8 2915.7 819.3 2896.1 826.9 2876.7C834.2 2857.9 842.4 2838.2 849.3 2821.5C855.1 2807.6 859 2796.7 865.5 2783.4C873 2767.9 882.7 2748.3 892.4 2734.2C900.8 2722.1 909.8 2711.8 919.2 2702.9C927.7 2694.9 936.4 2688.7 946 2682.8C955.8 2676.7 966.3 2670.8 977.4 2667.1C988.7 2663.3 1002.1 2661 1013.2 2660.4C1022.7 2659.9 1030.2 2661.5 1040 2662.6C1052.1 2663.9 1066.5 2666.7 1080.3 2668C1094.8 2669.4 1110.1 2670.5 1125 2670.7C1139.9 2670.9 1154.9 2670.2 1169.8 2669.4C1184.7 2668.7 1199.6 2667.1 1214.5 2666.2C1229.4 2665.3 1244.7 2664.6 1259.3 2664.2C1273.2 2663.8 1281.3 2663.8 1300 2663.6C1341.4 2663.1 1426.6 2662.2 1500 2661.5C1589.9 2660.6 1688.6 2659.8 1800 2658.8C1940 2657.6 2115.9 2656.2 2273.9 2654.9" fill="none" stroke="#000" stroke-width="8" stroke-linejoin="round"/>
<path d="M414.8 4085.7C422.2 4076 430 4066.4 437.1 4056.6C444.1 4047 450.9 4038.1 457.3 4027.5C464.4 4015.9 472.5 3999 477.4 3989.5C480.4 3983.8 481.2 3982.3 484.4 3975.8C492.1 3960.1 510.2 3923.5 522.6 3895.2C536 3864.6 549.1 3832 561.7 3798.2C575.2 3762.1 588 3724 600.8 3684.9C614.3 3643.5 627.7 3600.6 640.6 3556.3C654.2 3509.5 667.1 3460.7 680.1 3411.2C693.7 3359.5 707.2 3305.5 720.2 3252.5C733.2 3199.4 749 3130.3 758.3 3092.9C763.4 3072.6 766.4 3061.1 770.5 3046C774.4 3031.7 777.5 3020 782.2 3004.5C788.3 2984.5 796.9 2958.2 804.6 2936.3C811.8 2915.7 819.3 2896.1 826.9 2876.7C834.2 2857.9 841.8 2839.9 849.3 2821.5" fill="none" stroke="#000" stroke-width="9.0" stroke-linejoin="round" stroke-linecap="round"/>
<path d="M294.8 4156.2C302.5 4154.6 309.9 4153.5 317.8 4151.5C326.5 4149.3 335.9 4146.7 344.7 4143.2C353.8 4139.6 363.1 4135.4 371.5 4129.8C380.3 4123.9 388.5 4115.9 396.1 4108.5C403.4 4101.4 409.6 4094.3 416.3 4086.2C423.7 4077.3 431.5 4066.9 438.6 4057.1C445.6 4047.5 452.4 4038.6 458.8 4028C465.9 4016.4 474 3999.5 478.9 3990C481.9 3984.3 482.7 3982.8 485.9 3976.3C493.6 3960.6 511.7 3924 524.1 3895.7C537.5 3865.1 550.6 3832.5 563.2 3798.7C576.7 3762.6 589.5 3724.5 602.3 3685.4C615.8 3644 629.2 3601.1 642.1 3556.8C655.7 3510 668.6 3461.2 681.6 3411.7C695.2 3360 709 3304.6 721.7 3253C733.7 3204.1 744.6 3157.7 756 3110" fill="none" stroke="#000" stroke-width="8" stroke-dasharray="24.5 34.5" stroke-linecap="round"/>
<path d="M764.3 3086.4L777.7 3060.1M792.2 3026.4L802.9 3004.6M821.7 2967.7L836.8 2945.3M862.5 2908L882.6 2885.4M916.4 2851.1L938.2 2837.2M974.4 2814.5L997.1 2808.6M1034.5 2805.3L1056.5 2807.6M1093 2814.3L1116.9 2817.8M1151.4 2818.9L1175.8 2817.4M1209.4 2813.4L1234.7 2809.9M1268.8 2806.2L1293.8 2804.8M1327.7 2804.4L1352.7 2804.2M1386.6 2803.9L1411.6 2803.7M1445.5 2803.4L1470.5 2803.2M1504.4 2802.9L1529.4 2802.7M1563.3 2802.4L1588.3 2802.2M1622.2 2802L1647.2 2801.7M1681.1 2801.5L1706.1 2801.3M1740 2801L1765 2800.8M1798.9 2800.5L1823.9 2800.3M1857.8 2800L1882.8 2799.8M1916.7 2799.5L1941.7 2799.3M1975.6 2799L2000.6 2798.8M2034.5 2798.5L2059.5 2798.3M2093.4 2798L2118.4 2797.8M2152.3 2797.5L2177.3 2797.3M2211.2 2797L2236.2 2796.8M2270.1 2796.6L2279.9 2796.5" fill="none" stroke="#000" stroke-width="8" stroke-linecap="round"/>
</g>
<g stroke="#000" stroke-width="8" fill="none" stroke-linecap="round">
<path stroke-linecap="butt" stroke-linejoin="miter" d="M293.3 2393.2H2273.9V4155.7H293.3Z"/>
<path d="M293.3 4155.7v33.5M293.3 2393.2v33.5M689.4 4155.7v33.5M689.4 2393.2v33.5M1085.5 4155.7v33.5M1085.5 2393.2v33.5M1481.7 4155.7v33.5M1481.7 2393.2v33.5M1877.8 4155.7v33.5M1877.8 2393.2v33.5M2273.9 4155.7v33.5M2273.9 2393.2v33.5M491.4 4155.7v15.5M491.4 2393.2v15.5M887.5 4155.7v15.5M887.5 2393.2v15.5M1283.6 4155.7v15.5M1283.6 2393.2v15.5M1679.7 4155.7v15.5M1679.7 2393.2v15.5M2075.8 4155.7v15.5M2075.8 2393.2v15.5M293.3 4155.7h-34.5M2273.9 4155.7h-34.5M293.3 3803.2h-34.5M2273.9 3803.2h-34.5M293.3 3450.7h-34.5M2273.9 3450.7h-34.5M293.3 3098.2h-34.5M2273.9 3098.2h-34.5M293.3 2745.7h-34.5M2273.9 2745.7h-34.5M293.3 2393.2h-34.5M2273.9 2393.2h-34.5M293.3 3979.4h-18M2273.9 3979.4h-18M293.3 3626.9h-18M2273.9 3626.9h-18M293.3 3274.4h-18M2273.9 3274.4h-18M293.3 2921.9h-18M2273.9 2921.9h-18M293.3 2569.4h-18M2273.9 2569.4h-18"/>
</g>
<text x="236.9" y="4171.7" text-anchor="end" font-size="69.5" letter-spacing="-2.0" font-family="Liberation Sans, Arial, Helvetica, sans-serif" font-weight="700" >0.0</text>
<text x="236.9" y="3819.2" text-anchor="end" font-size="69.5" letter-spacing="-2.0" font-family="Liberation Sans, Arial, Helvetica, sans-serif" font-weight="700" >0.2</text>
<text x="236.9" y="3466.7" text-anchor="end" font-size="69.5" letter-spacing="-2.0" font-family="Liberation Sans, Arial, Helvetica, sans-serif" font-weight="700" >0.4</text>
<text x="236.9" y="3114.2" text-anchor="end" font-size="69.5" letter-spacing="-2.0" font-family="Liberation Sans, Arial, Helvetica, sans-serif" font-weight="700" >0.6</text>
<text x="236.9" y="2761.7" text-anchor="end" font-size="69.5" letter-spacing="-2.0" font-family="Liberation Sans, Arial, Helvetica, sans-serif" font-weight="700" >0.8</text>
<text x="236.9" y="2409.2" text-anchor="end" font-size="69.5" letter-spacing="-2.0" font-family="Liberation Sans, Arial, Helvetica, sans-serif" font-weight="700" >1.0</text>
<text x="293.1" y="4260.4" text-anchor="middle" font-size="69.5" letter-spacing="-2.0" font-family="Liberation Sans, Arial, Helvetica, sans-serif" font-weight="700" >0.0</text>
<text x="689.2" y="4260.4" text-anchor="middle" font-size="69.5" letter-spacing="-2.0" font-family="Liberation Sans, Arial, Helvetica, sans-serif" font-weight="700" >0.3</text>
<text x="1085.3" y="4260.4" text-anchor="middle" font-size="69.5" letter-spacing="-2.0" font-family="Liberation Sans, Arial, Helvetica, sans-serif" font-weight="700" >0.6</text>
<text x="1481.5" y="4260.4" text-anchor="middle" font-size="69.5" letter-spacing="-2.0" font-family="Liberation Sans, Arial, Helvetica, sans-serif" font-weight="700" >0.9</text>
<text x="1877.6" y="4260.4" text-anchor="middle" font-size="69.5" letter-spacing="-2.0" font-family="Liberation Sans, Arial, Helvetica, sans-serif" font-weight="700" >1.2</text>
<text x="2273.7" y="4260.4" text-anchor="middle" font-size="69.5" letter-spacing="-2.0" font-family="Liberation Sans, Arial, Helvetica, sans-serif" font-weight="700" >1.5</text>
<text x="1284.2" y="4358.2" text-anchor="middle" font-size="69.5" letter-spacing="-2.5" font-family="Liberation Sans, Arial, Helvetica, sans-serif" font-weight="700" >Time (s)</text>
<text transform="translate(104.1 3297.5) rotate(-90)" text-anchor="middle" font-size="69.5" letter-spacing="-0.1" font-family="Liberation Sans, Arial, Helvetica, sans-serif" font-weight="400">Displacement (m)</text>
<text x="1199.5" y="4549.1" text-anchor="middle" font-size="86" font-family="Liberation Serif, Times New Roman, serif">(<tspan font-weight="700">c</tspan>)</text>
<g stroke="#000" fill="none">
<path d="M1409 3738.2H1598.3M1409 3839.7H1598.3" stroke-width="3.7"/>
<path d="M1411.5 3941.5H1595.8" stroke-width="8.3" stroke-linecap="round"/>
<path d="M1411.5 4043H1595.8" stroke-width="8.3" stroke-linecap="round" stroke-dasharray="24.7 34.6"/>
</g>
<g fill="#fff" stroke="#000" stroke-width="3.4"><path d="M1503 3728.3L1513.5 3745.9L1492.5 3745.9Z"/><circle cx="1503" cy="3840.5" r="10.2"/></g>
<g fill="#000"><rect x="1500.8" y="3737.6" width="4.4" height="3.2"/><rect x="1500.8" y="3838.7" width="4.4" height="3.2"/></g>
<text x="1612.3" y="3767" text-anchor="start" font-size="62" letter-spacing="-3.31" font-family="Liberation Sans, Arial, Helvetica, sans-serif" font-weight="700" >Experiment-1</text>
<text x="1612.3" y="3868.5" text-anchor="start" font-size="62" letter-spacing="-3.31" font-family="Liberation Sans, Arial, Helvetica, sans-serif" font-weight="700" >Experiment-2</text>
<text x="1612.3" y="3970.3" text-anchor="start" font-size="62" letter-spacing="-2.25" font-family="Liberation Sans, Arial, Helvetica, sans-serif" font-weight="700" >Simulation, friction=0.5</text>
<text x="1612.3" y="4071.8" text-anchor="start" font-size="62" letter-spacing="-2.25" font-family="Liberation Sans, Arial, Helvetica, sans-serif" font-weight="700" >Simulation, friction=0.7</text>
</svg>
</body></html>
